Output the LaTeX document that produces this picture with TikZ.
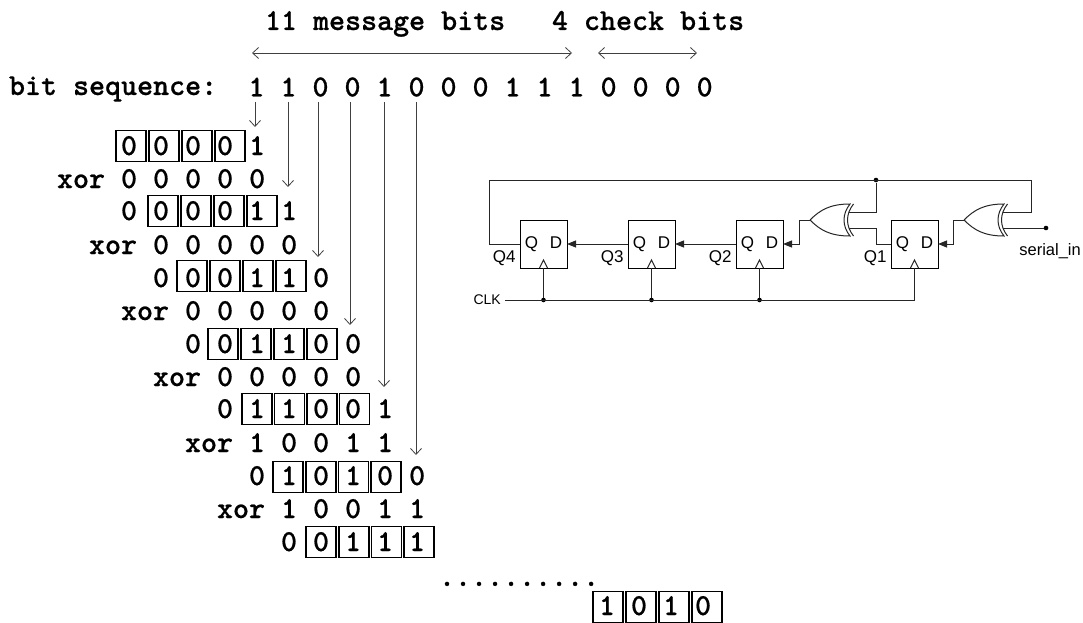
\documentclass[tikz,border=0pt]{standalone}
\usepackage{fontspec}
\setmainfont{Liberation Sans}
\newfontfamily\codefont{lmmonolt10-bold.otf}[FakeBold=0.6]
\usetikzlibrary{positioning,arrows.meta,calc}
\newcommand{\qd}{\raisebox{-3pt}{Q\hspace{12pt}D}}

\begin{document}
\begin{tikzpicture}[
    x=1pt, y=-1pt,
    font=\fontsize{17}{18}\selectfont,
    code/.style={font=\codefont\fontsize{30.5}{32}\selectfont, inner sep=0pt, outer sep=0pt, anchor=base west},
    bit/.style={font=\codefont\fontsize{30.5}{32}\selectfont, inner sep=0pt, outer sep=0pt, minimum width=16pt, minimum height=30pt},
    cell/.style={draw, line width=1.5pt, inner sep=0pt, outer sep=0pt, minimum width=30pt, minimum height=31pt},
    arrow/.style={-{Straight Barb[length=6pt,width=11pt]}, line width=0.8pt, draw=black!75},
    ends/.style={{Straight Barb[length=6pt,width=11pt]}-{Straight Barb[length=6pt,width=11pt]}, line width=0.8pt, draw=black!75},
    wire/.style={line width=1pt, draw=black!85},
    feed/.style={wire, -{Triangle[length=9pt,width=7pt]}},
    ff/.style={draw, line width=1pt, inner sep=0pt, outer sep=0pt, minimum width=47pt, minimum height=48pt},
    dot/.style={circle, fill=black, inner sep=0pt, minimum size=4.6pt},
    pics/xorgate/.style={code={
        \draw[wire] (0,0) .. controls (10,-10) and (20,-16) .. (40,-16)
                    .. controls (32,-6) and (32,6) .. (40,16)
                    .. controls (20,16) and (10,10) .. (0,0);
        \draw[wire] (43.5,-16) .. controls (35.5,-6) and (35.5,6) .. (43.5,16);
        \coordinate (-a) at (39,-8);
        \coordinate (-b) at (39,8);
        \coordinate (-y) at (0,0);
    }}
]
\useasboundingbox (0,0) rectangle (1083,623);

% --- Header ---
\node[code] (msg) at (265,30) {11 message bits};
\node[code] (chk) at (552,30) {4 check bits};
\coordinate (m1) at (252,53);
\coordinate (m2) at (572,53);
\coordinate (k1) at (598,53);
\coordinate (k2) at (697,53);
\draw[ends] (m1) -- (m2);
\draw[ends] (k1) -- (k2);

% --- Bit sequence ---
\node[code] (seq) at (9,95) {bit sequence:};
\node[bit] (b1) at (256.5,87) {1};
\node[bit, right=16pt of b1] (b2) {1};
\node[bit, right=16pt of b2] (b3) {0};
\node[bit, right=16pt of b3] (b4) {0};
\node[bit, right=16pt of b4] (b5) {1};
\node[bit, right=16pt of b5] (b6) {0};
\node[bit, right=16pt of b6] (b7) {0};
\node[bit, right=16pt of b7] (b8) {0};
\node[bit, right=16pt of b8] (b9) {1};
\node[bit, right=16pt of b9] (b10) {1};
\node[bit, right=16pt of b10] (b11) {1};
\node[bit, right=16pt of b11] (b12) {0};
\node[bit, right=16pt of b12] (b13) {0};
\node[bit, right=16pt of b13] (b14) {0};
\node[bit, right=16pt of b14] (b15) {0};

% --- Division rows ---
\node[code] (r1) at (121,155) {0 0 0 0 1};
\node[code] (x1) at (57,188) {xor 0 0 0 0 0};
\node[code] (r2) at (121,220) {0 0 0 0 1 1};
\node[code] (x2) at (89,254) {xor 0 0 0 0 0};
\node[code] (r3) at (153,287) {0 0 0 1 1 0};
\node[code] (x3) at (121,320) {xor 0 0 0 0 0};
\node[code] (r4) at (185,353) {0 0 1 1 0 0};
\node[code] (x4) at (153,386) {xor 0 0 0 0 0};
\node[code] (r5) at (217,418) {0 1 1 0 0 1};
\node[code] (x5) at (185,452) {xor 1 0 0 1 1};
\node[code] (r6) at (249,485) {0 1 0 1 0 0};
\node[code] (x6) at (217,518) {xor 1 0 0 1 1};
\node[code] (r7) at (281,551) {0 0 1 1 1};
\node[code] (more) at (439,586) {..........};
\node[code] (res) at (599,615) {1 0 1 0};

% --- Registers on each row ---
\node[cell] (a1) at (131,146) {};
\node[cell, right=3pt of a1] (a2) {};
\node[cell, right=3pt of a2] (a3) {};
\node[cell, right=3pt of a3] (a4) {};
\node[cell] (c1) at (163,211) {};
\node[cell, right=3pt of c1] (c2) {};
\node[cell, right=3pt of c2] (c3) {};
\node[cell, right=3pt of c3] (c4) {};
\node[cell] (d1) at (192,276) {};
\node[cell, right=3pt of d1] (d2) {};
\node[cell, right=3pt of d2] (d3) {};
\node[cell, right=3pt of d3] (d4) {};
\node[cell] (e1) at (223,344) {};
\node[cell, right=3pt of e1] (e2) {};
\node[cell, right=3pt of e2] (e3) {};
\node[cell, right=3pt of e3] (e4) {};
\node[cell] (f1) at (257,409) {};
\node[cell, right=2.5pt of f1] (f2) {};
\node[cell, right=2.5pt of f2] (f3) {};
\node[cell, right=2.5pt of f3] (f4) {};
\node[cell] (g1) at (288,477) {};
\node[cell, right=3pt of g1] (g2) {};
\node[cell, right=2.5pt of g2] (g3) {};
\node[cell, right=2.5pt of g3] (g4) {};
\node[cell] (h1) at (321,542) {};
\node[cell, right=3pt of h1] (h2) {};
\node[cell, right=2.5pt of h2] (h3) {};
\node[cell, right=2.5pt of h3] (h4) {};
\node[cell] (z1) at (608,607) {};
\node[cell, right=3pt of z1] (z2) {};
\node[cell, right=3pt of z2] (z3) {};
\node[cell, right=3pt of z3] (z4) {};

% --- Bits coming down ---
\coordinate (t1) at (255,127);
\coordinate (t2) at (288,187);
\coordinate (t3) at (318,257);
\coordinate (t4) at (350,325);
\coordinate (t5) at (384,387);
\coordinate (t6) at (416,455);
\draw[arrow] (b1.south -| t1) -- (t1);
\draw[arrow] (b2.south -| t2) -- (t2);
\draw[arrow] (b3.south -| t3) -- (t3);
\draw[arrow] (b4.south -| t4) -- (t4);
\draw[arrow] (b5.south -| t5) -- (t5);
\draw[arrow] (b6.south -| t6) -- (t6);

% --- Circuit ---
\node[ff] (ff4) at (543.5,244) {\qd};
\node[ff, right=61pt of ff4] (ff3) {\qd};
\node[ff, right=61pt of ff3] (ff2) {\qd};
\node[ff, right=108pt of ff2] (ff1) {\qd};
\node[below left=3pt and 1pt of ff4.west] (q4) {Q4};
\node[below left=3pt and 1pt of ff3.west] (q3) {Q3};
\node[below left=3pt and 1pt of ff2.west] (q2) {Q2};
\node[below left=3pt and 1pt of ff1.west] (q1) {Q1};

\pic (xa) at (810,220) {xorgate};
\pic (xb) at (964,220) {xorgate};

\draw[wire] ([xshift=-4pt]ff4.south) -- ([yshift=8pt]ff4.south) -- ([xshift=4pt]ff4.south);
\draw[wire] ([xshift=-4pt]ff3.south) -- ([yshift=8pt]ff3.south) -- ([xshift=4pt]ff3.south);
\draw[wire] ([xshift=-4pt]ff2.south) -- ([yshift=8pt]ff2.south) -- ([xshift=4pt]ff2.south);
\draw[wire] ([xshift=-4pt]ff1.south) -- ([yshift=8pt]ff1.south) -- ([xshift=4pt]ff1.south);

\draw[feed] (ff3.west) -- (ff4.east);
\draw[feed] (ff2.west) -- (ff3.east);
\coordinate (o1) at (799,220);
\draw[feed] (xa-y) -- (o1) |- (ff2.east);
\coordinate (o2) at (953,220);
\draw[feed] (xb-y) -- (o2) |- (ff1.east);
\coordinate (w1) at (876,244);
\draw[wire] (ff1.west) -- (w1) |- (xa-b);

% --- Feedback ---
\coordinate (u1) at (489,180);
\coordinate (u2) at (1031,180);
\node[dot] (jt) at (876,180) {};
\draw[wire] (ff4.west) -| (u1) -- (u2) |- (xb-a);
\draw[wire] (jt) |- (xa-a);

% --- Input ---
\node[dot] (sin) at (1046,228) {};
\node[anchor=north east, inner sep=0pt, font=\fontsize{16.5}{18}\selectfont] (sinl) at (1081,243) {serial\_in};
\draw[wire] (xb-b) -- (sin);

% --- Clock ---
\node[anchor=east, inner sep=0pt, font=\fontsize{14}{16}\selectfont] (clk) at (501,300) {CLK};
\node[dot] (j4) at (ff4.south |- clk) {};
\node[dot] (j3) at (ff3.south |- clk) {};
\node[dot] (j2) at (ff2.south |- clk) {};
\draw[wire] ([xshift=4pt]clk.east) -| (ff1.south);
\draw[wire] (j4) -- (ff4.south);
\draw[wire] (j3) -- (ff3.south);
\draw[wire] (j2) -- (ff2.south);

\end{tikzpicture}
\end{document}
